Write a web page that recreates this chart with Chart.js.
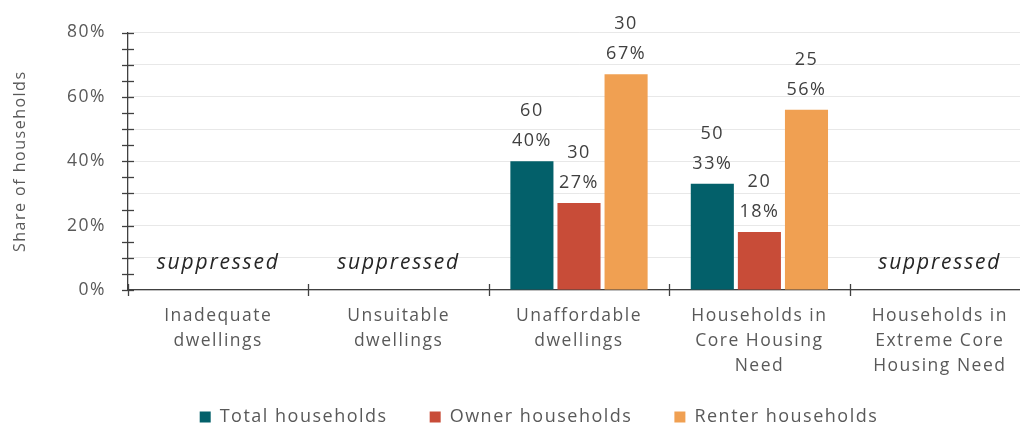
<!DOCTYPE html>
<html>
<head>
<meta charset="utf-8">
<script src="https://cdn.jsdelivr.net/npm/chart.js@4.4.1/dist/chart.umd.min.js"></script>
<style>
  html, body { margin: 0; padding: 0; overflow: hidden; background: #ffffff; width: 1020px; height: 427px; }
  #wrap { position: relative; width: 1078px; height: 436px; }
  canvas { display: block; }
</style>
</head>
<body>
<div id="wrap"><canvas id="c" width="1078" height="436" style="width:1078px;height:436px"></canvas></div>
<script>
// ---- data ----
const categories = [
  ["Inadequate", "dwellings"],
  ["Unsuitable", "dwellings"],
  ["Unaffordable", "dwellings"],
  ["Households in", "Core Housing", "Need"],
  ["Households in", "Extreme Core", "Housing Need"]
];
const seriesNames = ["Total households", "Owner households", "Renter households"];
const totalShare  = [null, null, 40, 33, null];
const ownerShare  = [null, null, 27, 18, null];
const renterShare = [null, null, 67, 56, null];
const totalCount  = [null, null, 60, 50, null];
const ownerCount  = [null, null, 30, 20, null];
const renterCount = [null, null, 30, 25, null];
const suppressed  = [true, true, false, false, true];
const yTicks = { min: 0, max: 80, step: 5, labelEvery: 20 };
const yTitle = "Share of households";
const suppressedText = "suppressed";

const colors = ["#03606A", "#C84C38", "#F0A052"];
const FONT = "'Open Sans', 'Liberation Sans', sans-serif";
const SPACING = '1.5px';

const counts = [totalCount, ownerCount, renterCount];

const spacingPlugin = {
  id: 'spacing',
  beforeUpdate(chart) { chart.ctx.letterSpacing = SPACING; },
  beforeLayout(chart) { chart.ctx.letterSpacing = SPACING; },
  beforeDraw(chart) { chart.ctx.letterSpacing = SPACING; }
};

const decorPlugin = {
  id: 'decor',
  afterDraw(chart) {
    const ctx = chart.ctx;
    const xs = chart.scales.x, ys = chart.scales.y;
    const area = chart.chartArea;
    ctx.save();
    ctx.strokeStyle = '#404040';
    ctx.lineWidth = 1.3;
    // y crossing ticks
    for (let v = yTicks.min; v <= yTicks.max; v += yTicks.step) {
      const py = Math.round(ys.getPixelForValue(v)) + 0.5;
      ctx.beginPath(); ctx.moveTo(area.left - 6, py); ctx.lineTo(area.left + 6, py); ctx.stroke();
    }
    // x crossing ticks at category boundaries
    const n = categories.length;
    const cw = xs.width / n;
    for (let i = 0; i <= n; i++) {
      const px = Math.round(xs.left + i * cw) + 0.5;
      ctx.beginPath(); ctx.moveTo(px, area.bottom - 6); ctx.lineTo(px, area.bottom + 6); ctx.stroke();
    }
    // data labels
    ctx.letterSpacing = '1.5px';
    ctx.fillStyle = '#404040';
    ctx.font = "18px " + FONT;
    ctx.textAlign = 'center';
    ctx.textBaseline = 'middle';
    chart.data.datasets.forEach((ds, di) => {
      const meta = chart.getDatasetMeta(di);
      meta.data.forEach((bar, i) => {
        const v = ds.data[i];
        if (v === null || v === undefined) return;
        ctx.fillText(v + '%', bar.x, bar.y - 20);
        ctx.fillText(String(counts[di][i]), bar.x, bar.y - 50);
      });
    });
    // suppressed
    ctx.font = "italic 21px " + FONT;
    ctx.fillStyle = '#262626';
    ctx.letterSpacing = '1.8px';
    suppressed.forEach((s, i) => {
      if (!s) return;
      ctx.fillText(suppressedText, xs.getPixelForValue(i), area.bottom - 27);
    });
    ctx.restore();
  }
};

const datasets = [totalShare, ownerShare, renterShare].map((d, i) => ({
  label: seriesNames[i],
  data: d,
  backgroundColor: colors[i],
  borderWidth: 0,
  categoryPercentage: 0.783,
  barPercentage: 0.915
}));

new Chart(document.getElementById('c'), {
  type: 'bar',
  data: { labels: categories, datasets },
  plugins: [spacingPlugin, decorPlugin],
  options: {
    responsive: false,
    animation: false,
    devicePixelRatio: 1,
    layout: { padding: { top: 28, left: 0, right: 0, bottom: 0 } },
    plugins: {
      tooltip: { enabled: false },
      legend: {
        position: 'bottom',
        labels: {
          boxWidth: 11, boxHeight: 11, padding: 42,
          color: '#595959',
          font: { family: FONT, size: 18 }
        }
      }
    },
    scales: {
      x: {
        offset: true,
        grid: { display: false, drawTicks: false },
        border: { display: true, color: '#404040', width: 1.3 },
        ticks: {
          color: '#595959', padding: 14, maxRotation: 0, autoSkip: false,
          font: { family: FONT, size: 17.5, lineHeight: '25px' }
        },
        afterFit(s) { s.height = 76; },
        afterUpdate(s) { s._computeLabelArea = () => null; }
      },
      y: {
        min: yTicks.min, max: yTicks.max,
        grid: { color: '#e8e8e8', lineWidth: 1, drawTicks: false },
        border: { display: true, color: '#404040', width: 1.3 },
        ticks: {
          stepSize: yTicks.step, padding: 22, color: '#595959',
          font: { family: FONT, size: 17.5 },
          callback: (v) => (v % yTicks.labelEvery === 0 ? v + '%' : '')
        },
        title: {
          display: true, text: yTitle, color: '#595959',
          font: { family: FONT, size: 16 },
          padding: { top: 11, bottom: 0 }
        },
        afterFit(s) { s.width = 128; }
      },
      y2: {
        position: 'right',
        display: true,
        grid: { display: false, drawTicks: false },
        border: { display: false },
        ticks: { display: false },
        afterFit(s) { s.width = 48; }
      }
    }
  }
});
</script>
</body>
</html>
